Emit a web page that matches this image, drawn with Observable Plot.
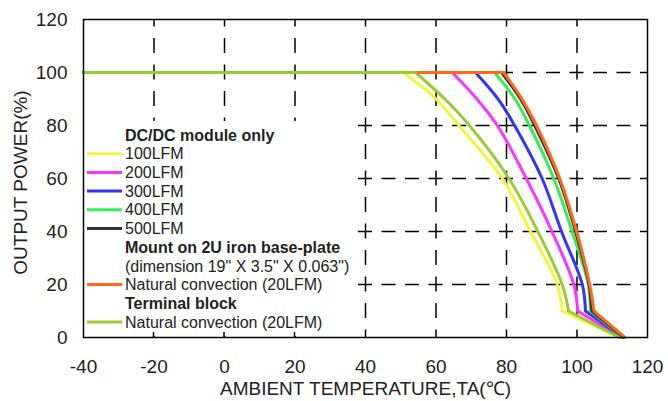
<!DOCTYPE html>
<html><head><meta charset="utf-8">
<script src="https://cdn.jsdelivr.net/npm/d3@7"></script>
<script src="https://cdn.jsdelivr.net/npm/@observablehq/plot@0.6"></script>
<style>
body{margin:0;background:#fff;}
#chart svg{font-family:"Liberation Sans",Arial,sans-serif;color:#222;}
</style>
</head><body><div id="chart"></div>
<script>
// ---- data ----
const xTicks = [-40, -20, 0, 20, 40, 60, 80, 100, 120];
const yTicks = [0, 20, 40, 60, 80, 100, 120];
const xGrid = [-20, 0, 20, 40, 60, 80, 100];
const yGrid = [20, 40, 60, 80, 100];

const seriesNames = ["100LFM", "200LFM", "300LFM", "400LFM", "500LFM",
  "Base-plate natural convection (20LFM)", "Terminal block natural convection (20LFM)"];
const seriesColors = ["#f4f43c", "#ff33ff", "#3333ff", "#33ee55", "#333333", "#ff6a1a", "#99cc33"];

// output power levels shared by every curve
const powerLevels = [100, 100, 90, 80, 60, 40, 20, 10, 0];
// ambient temperature at each power level, per series
const temp100 = [-40, 50.8, 60.0, 66.5, 78.8, 86.8, 94.4, 95.8, 112.0];
const temp200 = [-40, 64.6, 71.6, 77.4, 85.6, 92.9, 99.1, 100.2, 112.5];
const temp300 = [-40, 71.2, 77.6, 82.3, 90.1, 95.6, 101.5, 102.4, 113.0];
const temp400 = [-40, 76.6, 82.4, 86.5, 93.4, 98.6, 103.2, 103.8, 113.0];
const temp500 = [-40, 78.6, 84.0, 88.0, 94.8, 99.6, 103.4, 104.2, 113.3];
const tempBase = [-40, 79.2, 84.4, 88.5, 95.1, 99.9, 103.6, 104.8, 113.6];
const tempTerm = [-40, 54.2, 62.5, 69.5, 80.7, 88.9, 95.8, 97.6, 112.0];

const legendText = ["DC/DC module only", "100LFM", "200LFM", "300LFM", "400LFM", "500LFM",
  "Mount on 2U iron base-plate", "(dimension 19\" X 3.5\" X 0.063\")",
  "Natural convection (20LFM)", "Terminal block", "Natural convection (20LFM)"];
const legendBold = [true, false, false, false, false, false, true, false, false, true, false];
const legendSeries = [null, 0, 1, 2, 3, 4, null, null, 5, null, 6];

const xLabel = "AMBIENT TEMPERATURE,TA(\u2103)";
const yLabel = "OUTPUT POWER(%)";

// ---- build tables: straight flat/tail pieces and the smooth derating bend ----
const temps = [temp100, temp200, temp300, temp400, temp500, tempBase, tempTerm];
const straightRows = [];
const bendRows = [];
temps.forEach((arr, s) => {
  arr.forEach((t, i) => {
    const r = {series: seriesNames[s], t, p: powerLevels[i]};
    if (i <= 1) straightRows.push({...r, part: s + "-a"});
    if (i >= 7) straightRows.push({...r, part: s + "-c"});
    if (i >= 1 && i <= 7) bendRows.push({...r, part: s + "-b"});
  });
});

function legendMark(index, scales, values, dims) {
  const g = d3.create("svg:g");
  const left = dims.marginLeft;
  const bottom = dims.height - dims.marginBottom;
  g.append("rect").attr("x", left + 1).attr("y", 121)
    .attr("width", 273).attr("height", bottom - 1 - 121).attr("fill", "#fff");
  for (const v of xGrid) {
    const x = scales.x(v);
    if (x < left + 274) g.append("line").attr("x1", x).attr("x2", x)
      .attr("y1", bottom).attr("y2", bottom - 5).attr("stroke", "#000").attr("stroke-width", 1.5);
  }
  legendText.forEach((txt, i) => {
    const y = 135 + i * 18.7;
    const s = legendSeries[i];
    if (s !== null) {
      g.append("line").attr("x1", 87).attr("x2", 122).attr("y1", y).attr("y2", y)
        .attr("stroke", seriesColors[s]).attr("stroke-width", 3);
    }
    g.append("text").attr("x", 125).attr("y", y).attr("dy", "0.35em")
      .attr("text-anchor", "start")
      .attr("font-size", 16).attr("font-weight", legendBold[i] ? "bold" : "normal")
      .attr("fill", "#222").text(txt);
  });
  return g.node();
}

const lineStyle = {x: "t", y: "p", z: "part", stroke: "series", strokeWidth: 3, strokeLinejoin: "round", strokeLinecap: "round"};

const chart = Plot.plot({
  width: 668, height: 401,
  marginLeft: 83, marginRight: 21, marginTop: 19, marginBottom: 64,
  x: {domain: [-40, 120]},
  y: {domain: [0, 120]},
  color: {domain: seriesNames, range: seriesColors},
  marks: [
    Plot.gridX(xGrid, {stroke: "#000", strokeOpacity: 1, strokeWidth: 1.5, strokeDasharray: "15,11.5", strokeDashoffset: 7.5}),
    Plot.gridY(yGrid, {stroke: "#000", strokeOpacity: 1, strokeWidth: 1.5, strokeDasharray: "14,9.5", strokeDashoffset: 7}),
    legendMark,
    Plot.line(bendRows, {...lineStyle, curve: "catmull-rom"}),
    Plot.line(straightRows, lineStyle),
    Plot.frame({stroke: "#000", strokeWidth: 1.5}),
    Plot.axisX(xTicks, {tickSize: 0, tickPadding: 22, fontSize: 19, tickFormat: d => String(d), label: null}),
    Plot.axisY(yTicks, {tickSize: 0, tickPadding: 16, fontSize: 19, tickFormat: d => String(d), label: null}),
    Plot.text([xLabel], {frameAnchor: "bottom", lineAnchor: "middle", textAnchor: "middle", dy: 51, fontSize: 19, fill: "#222"}),
    Plot.text([yLabel], {frameAnchor: "left", lineAnchor: "middle", textAnchor: "middle", rotate: -90, dx: -63, dy: 4, fontSize: 19, fill: "#222"})
  ]
});
document.getElementById("chart").appendChild(chart);
</script>
</body></html>
